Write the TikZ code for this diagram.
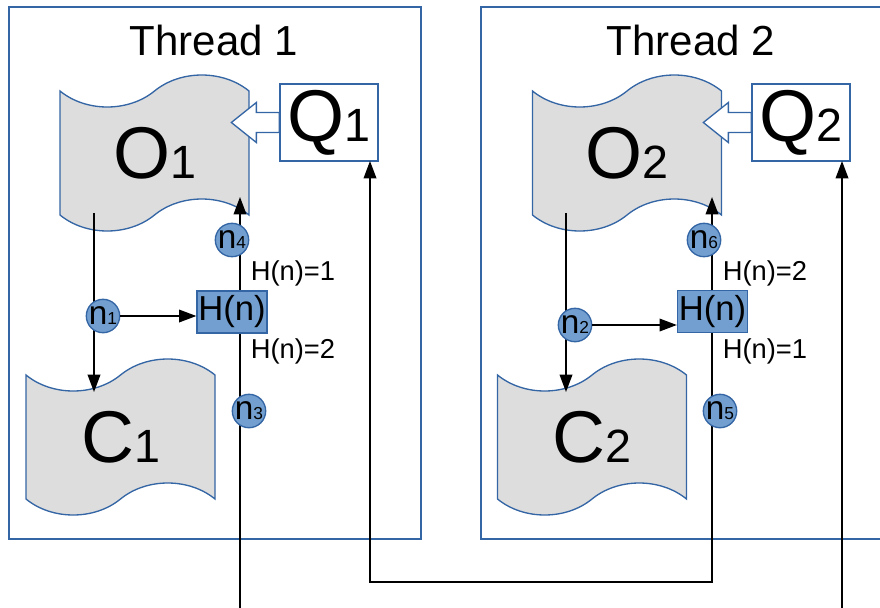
\documentclass[tikz,border=0pt]{standalone}
\usepackage{fontspec}
\setmainfont{Liberation Sans}
\usetikzlibrary{arrows.meta, shapes.symbols, calc}

\definecolor{frameBlue}{HTML}{3465A4}
\definecolor{dotBlue}{HTML}{729FCF}
\definecolor{tapeGrey}{HTML}{DDDDDD}

\newcommand{\fs}[1]{\fontsize{#1}{#1}\selectfont}
\newcommand{\bigsub}[1]{{\fs{35}#1}}
\newcommand{\dotsub}[1]{{\fs{13}#1}}

\begin{document}
\begin{tikzpicture}[x=0.75pt, y=-0.75pt,
    frame/.style={draw=frameBlue, line width=1pt},
    store/.style={tape, draw=frameBlue, fill=tapeGrey, line width=1pt,
        minimum width=141.75pt, minimum height=117pt, tape bend height=24pt,
        inner sep=0pt, font=\fs{55}},
    queue/.style={draw=frameBlue, fill=white, line width=1pt,
        minimum width=73.5pt, minimum height=57.75pt, inner sep=0pt, font=\fs{55}},
    hashbox/.style={draw=frameBlue, fill=dotBlue, line width=1pt,
        minimum width=52.5pt, minimum height=31.5pt, inner sep=0pt, font=\fs{26}},
    dot/.style={circle, draw=frameBlue, fill=dotBlue, line width=1pt,
        minimum size=25pt, inner sep=0pt, font=\fs{25}},
    cond/.style={font=\fs{20.5}},
    flow/.style={line width=1.1pt, -{Triangle[length=13pt, width=9.5pt]}},
    push/.style={draw=frameBlue, fill=white, line width=1pt}]

    \useasboundingbox (0,0) rectangle (880,607);
    \clip (0,0) rectangle (880,607);

    % Thread frames
    \draw[frame] (9,7) rectangle (421,539);
    \draw[frame] (481,7) rectangle (900,539);
    \node[font=\fs{31.5}] (title1) at (214,40) {Thread 1};
    \node[font=\fs{31.5}] (title2) at (691,40) {Thread 2};

    % Stores and queues
    \node[store] (O1) at (154.5,153) {O\bigsub{1}};
    \node[store] (C1) at (120.5,437) {C\bigsub{1}};
    \node[store] (O2) at (627,153) {O\bigsub{2}};
    \node[store] (C2) at (592,437) {C\bigsub{2}};
    \node[queue] (Q1) at (329,122.5) {Q\bigsub{1}};
    \node[queue] (Q2) at (801,122.5) {Q\bigsub{2}};

    % Hollow arrows from queue into store
    \foreach \q in {Q1,Q2}
        \draw[push] ($(\q.west)+(0,-10)$) -- ++(-23,0) -- ++(0,-10) -- ++(-25,20)
            -- ++(25,20) -- ++(0,-10) -- ++(23,0) -- cycle;

    % Line end points
    \coordinate (o1out) at (94,213);
    \coordinate (c1in) at (94,392);
    \coordinate (o1in) at (240,197);
    \coordinate (exit1) at (240,610);
    \coordinate (q1in) at (370,161);
    \coordinate (o2out) at (566,213);
    \coordinate (c2in) at (566,392);
    \coordinate (o2in) at (712,197);
    \coordinate (turn2) at (712,582);
    \coordinate (q2in) at (842,161);
    \coordinate (entry2) at (842,610);

    % Flows
    \draw[flow] (o1out) -- (c1in);
    \draw[flow] (exit1) -- (o1in);
    \draw[flow] (o2out) -- (c2in);
    \draw[flow, {Triangle[length=13pt, width=9.5pt]}-{Triangle[length=13pt, width=9.5pt]}]
        (o2in) -- (turn2) -| (q1in);
    \draw[flow] (entry2) -- (q2in);

    % Hash boxes and labels
    \node[hashbox] (H1) at (232,312) {H(n)};
    \node[hashbox] (H2) at (712.5,311.5) {H(n)};
    \node[cond] (h1up) at (293,273) {H(n)=1};
    \node[cond] (h1down) at (293,351) {H(n)=2};
    \node[cond] (h2up) at (765,273) {H(n)=2};
    \node[cond] (h2down) at (765,351) {H(n)=1};

    % Points n1..n6
    \node[dot] (n1) at (103,316) {n\dotsub{1}};
    \node[dot] (n2) at (575,325) {n\dotsub{2}};
    \node[dot] (n3) at (249,411) {n\dotsub{3}};
    \node[dot] (n4) at (232,240) {n\dotsub{4}};
    \node[dot] (n5) at (720,411) {n\dotsub{5}};
    \node[dot] (n6) at (704,240) {n\dotsub{6}};

    \draw[flow] (n1.east) -- (n1.east -| H1.west);
    \draw[flow] (n2.east) -- (n2.east -| H2.west);

\end{tikzpicture}
\end{document}
